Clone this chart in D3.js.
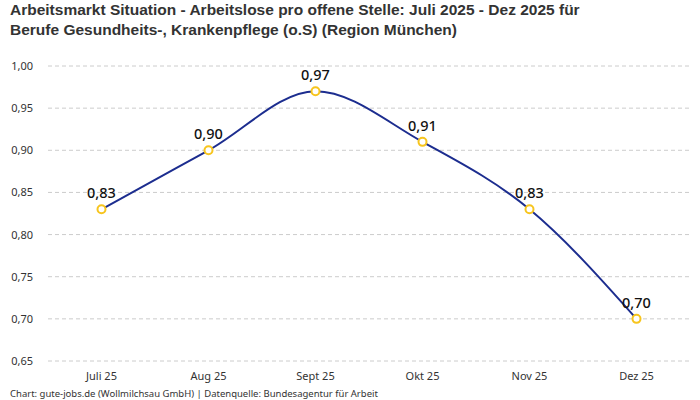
<!DOCTYPE html>
<html>
<head>
<meta charset="utf-8">
<script src="https://cdn.jsdelivr.net/npm/d3@7"></script>
<style>
  body { margin: 0; background: #fff; }
  svg { display: block; font-family: "Noto Sans", "Open Sans", sans-serif; }
  .title { font-family: "Liberation Sans", Arial, sans-serif; }
</style>
</head>
<body>
<div id="chart"></div>
<script>
// data
const months = ["Juli 25", "Aug 25", "Sept 25", "Okt 25", "Nov 25", "Dez 25"];
const ratios = [0.83, 0.90, 0.97, 0.91, 0.83, 0.70];
const yTicks = [0.65, 0.70, 0.75, 0.80, 0.85, 0.90, 0.95, 1.00];

const width = 700;
const height = 400;

const svg = d3.select("#chart")
    .append("svg")
    .attr("width", width)
    .attr("height", height);

const x = d3.scalePoint()
    .domain(months)
    .range([48, 690])
    .padding(0.5);

const y = d3.scaleLinear()
    .domain([0.65, 1.00])
    .range([361, 66]);

const fmt = v => d3.format(".2f")(v).replace(".", ",");

// title (two lines, like the original)
const titleLines = [
    "Arbeitsmarkt Situation - Arbeitslose pro offene Stelle: Juli 2025 - Dez 2025 für",
    "Berufe Gesundheits-, Krankenpflege (o.S) (Region München)"
];
svg.append("g").attr("class", "title").selectAll("text")
    .data(titleLines)
    .enter()
    .append("text")
    .attr("x", 10)
    .attr("y", (d, i) => 15 + i * 19.5)
    .attr("font-size", 15.5).attr("font-weight", "bold").attr("fill", "#333")
    .text(d => d);

// grid + y labels
const yAxis = svg.append("g");
yAxis.selectAll("line")
    .data(yTicks)
    .enter()
    .append("line")
    .attr("x1", 48).attr("x2", 690)
    .attr("y1", d => y(d)).attr("y2", d => y(d))
    .attr("stroke", "#cccccc")
    .attr("stroke-dasharray", "4,3");
yAxis.selectAll("text")
    .data(yTicks)
    .enter()
    .append("text")
    .attr("x", 33)
    .attr("y", d => y(d) + 4)
    .attr("text-anchor", "end")
    .attr("font-size", 11)
    .attr("fill", "#333")
    .text(fmt);

// x labels
svg.append("g").selectAll("text")
    .data(months)
    .enter()
    .append("text")
    .attr("x", d => x(d))
    .attr("y", 380)
    .attr("text-anchor", "middle")
    .attr("font-size", 11)
    .attr("fill", "#333")
    .text(d => d);

// line
const line = d3.line()
    .x((d, i) => x(months[i]))
    .y(d => y(d))
    .curve(d3.curveMonotoneX);

svg.append("path")
    .datum(ratios)
    .attr("d", line)
    .attr("fill", "none")
    .attr("stroke", "#1c2d8f")
    .attr("stroke-width", 2);

// markers
svg.append("g").selectAll("circle")
    .data(ratios)
    .enter()
    .append("circle")
    .attr("cx", (d, i) => x(months[i]))
    .attr("cy", d => y(d))
    .attr("r", 4)
    .attr("fill", "#fff")
    .attr("stroke", "#f7c51e")
    .attr("stroke-width", 2);

// value labels
svg.append("g").selectAll("text")
    .data(ratios)
    .enter()
    .append("text")
    .attr("x", (d, i) => x(months[i]))
    .attr("y", d => y(d) - 11)
    .attr("text-anchor", "middle")
    .attr("font-size", 14.5)
    .attr("font-weight", 500)
    .attr("fill", "#111")
    .text(fmt);

// footer
svg.append("text")
    .attr("x", 10).attr("y", 397)
    .attr("font-size", 9.5)
    .attr("fill", "#333")
    .text("Chart: gute-jobs.de (Wollmilchsau GmbH) | Datenquelle: Bundesagentur für Arbeit");
</script>
</body>
</html>
